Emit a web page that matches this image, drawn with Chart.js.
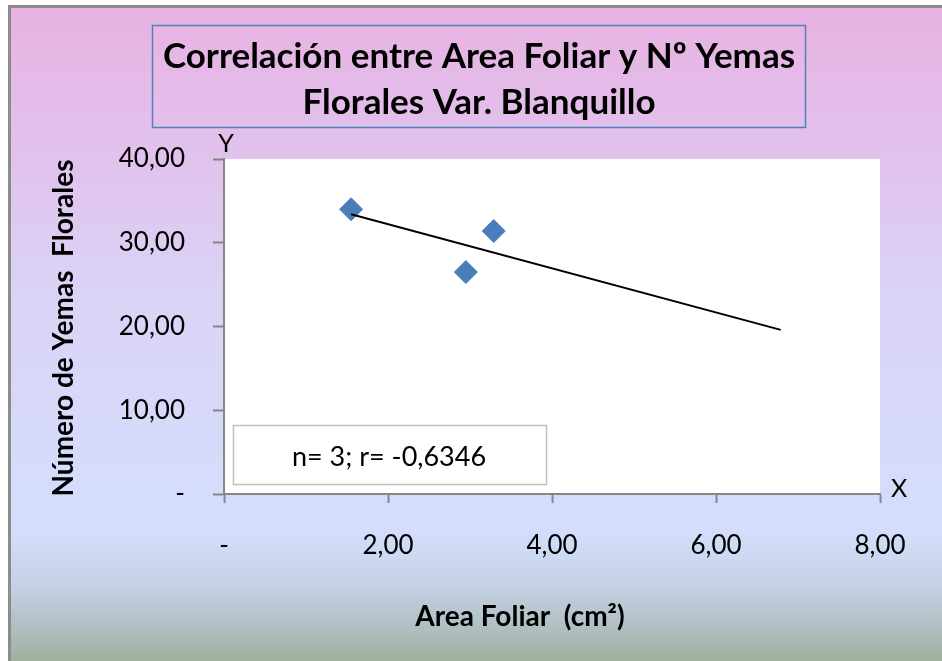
<!DOCTYPE html>
<html>
<head>
<meta charset="utf-8">
<script src="https://cdn.jsdelivr.net/npm/chart.js@4/dist/chart.umd.min.js"></script>
<style>
    body { margin: 0; background: #ffffff; }
    #corrChart { display: block; }
</style>
</head>
<body>
<canvas id="corrChart" width="942" height="661"></canvas>
<script>
// Data
const areaFoliar = [1.55, 2.95, 3.29];
const yemasFlorales = [34.0, 26.5, 31.4];
// Trend line ends
const trendX = [1.55, 6.79];
const trendY = [33.4, 19.6];
// Tick labels
const xTickLabels = ['-', '2,00', '4,00', '6,00', '8,00'];
const yTickLabels = ['-', '10,00', '20,00', '30,00', '40,00'];

const titleLines = ['Correlación entre Area Foliar y Nº Yemas', 'Florales Var. Blanquillo'];
const xTitle = 'Area Foliar  (cm²)';
const yTitle = 'Número de Yemas  Florales';
const statsText = 'n= 3; r= -0,6346';

const fontName = 'Lato, "Open Sans", sans-serif';
const axisGray = '#868686';

let points = [];
for (let i = 0; i < areaFoliar.length; i++) {
    points.push({ x: areaFoliar[i], y: yemasFlorales[i] });
}
let trend = [];
for (let i = 0; i < trendX.length; i++) {
    trend.push({ x: trendX[i], y: trendY[i] });
}

/******************* BACKGROUND + EXTRA TEXT *******************/
const decorPlugin = {
    id: 'decor',
    beforeDraw: (chart) => {
        const ctx = chart.ctx;
        const w = chart.width, h = chart.height;
        ctx.save();
        ctx.fillStyle = '#ffffff';
        ctx.fillRect(0, 0, w, h);
        let grad = ctx.createLinearGradient(0, 7, 0, h);
        grad.addColorStop(0, '#e8b2e2');
        grad.addColorStop(0.25, '#e0c4ee');
        grad.addColorStop(0.45, '#dad4f6');
        grad.addColorStop(0.8, '#d4defc');
        grad.addColorStop(0.88, '#c6d2e6');
        grad.addColorStop(0.94, '#b2c2c6');
        grad.addColorStop(1, '#9db19d');
        ctx.fillStyle = grad;
        ctx.fillRect(10, 7, w - 10, h - 7);
        // frame
        ctx.strokeStyle = '#8c8c8c';
        ctx.lineWidth = 3;
        ctx.beginPath();
        ctx.moveTo(9.5, h);
        ctx.lineTo(9.5, 6.5);
        ctx.lineTo(w, 6.5);
        ctx.stroke();
        // white plot area
        const a = chart.chartArea;
        ctx.fillStyle = '#ffffff';
        ctx.fillRect(a.left, a.top, a.right - a.left, a.bottom - a.top);
        ctx.restore();
    },
    afterDatasetsDraw: (chart) => {
        const ctx = chart.ctx;
        ctx.save();
        // title box
        ctx.strokeStyle = '#4f81bd';
        ctx.lineWidth = 1.5;
        ctx.strokeRect(152.5, 25.5, 653, 102);
        ctx.fillStyle = '#000000';
        ctx.textAlign = 'center';
        ctx.textBaseline = 'middle';
        ctx.font = 'bold 35px ' + fontName;
        ctx.fillText(titleLines[0], 479, 57);
        ctx.fillText(titleLines[1], 479, 103);
        // axis titles
        ctx.font = 'bold 28px ' + fontName;
        ctx.fillText(xTitle, 520, 617);
        ctx.save();
        ctx.translate(64, 328);
        ctx.rotate(-Math.PI / 2);
        ctx.fillText(yTitle, 0, 0);
        ctx.restore();
        // X and Y letters
        ctx.font = '25px ' + fontName;
        ctx.fillText('Y', 226, 144);
        ctx.fillText('X', 899, 489);
        // stats box
        ctx.fillStyle = '#ffffff';
        ctx.fillRect(233, 425, 313, 59);
        ctx.strokeStyle = '#bfbfbf';
        ctx.lineWidth = 1.5;
        ctx.strokeRect(233.5, 425.5, 313, 59);
        ctx.fillStyle = '#000000';
        ctx.font = '27px ' + fontName;
        ctx.fillText(statsText, 389, 457);
        ctx.restore();
    }
};

/******************* SCATTER CHART *******************/
let ctx = document.getElementById('corrChart');
let corrChart = new Chart(ctx, {
    type: 'scatter',
    data: {
        datasets: [{
            type: 'line',
            label: 'Tendencia',
            data: trend,
            borderColor: '#000000',
            borderWidth: 2,
            pointRadius: 0,
            fill: false,
            order: 0
        }, {
            label: 'Yemas',
            data: points,
            pointStyle: 'rectRot',
            pointRadius: 11.5,
            backgroundColor: '#4a7ebb',
            borderColor: '#4a7ebb',
            borderWidth: 1,
            order: 1
        }]
    },
    options: {
        responsive: false,
        animation: false,
        layout: {
            padding: { left: 0, top: 159, right: 62, bottom: 0 }
        },
        plugins: {
            legend: { display: false },
            tooltip: { enabled: false }
        },
        scales: {
            x: {
                type: 'linear',
                min: 0,
                max: 8,
                afterFit: (scale) => { scale.height = 167; },
                ticks: {
                    stepSize: 2,
                    padding: 27,
                    color: '#000000',
                    font: { family: fontName, size: 26 },
                    callback: (v, i) => xTickLabels[i]
                },
                grid: {
                    drawOnChartArea: false,
                    tickLength: 9,
                    tickWidth: 2,
                    color: axisGray
                },
                border: { color: axisGray, width: 2 }
            },
            y: {
                type: 'linear',
                min: 0,
                max: 40,
                afterFit: (scale) => { scale.width = 224; },
                ticks: {
                    stepSize: 10,
                    padding: 28,
                    color: '#000000',
                    font: { family: fontName, size: 26 },
                    callback: (v, i) => yTickLabels[i]
                },
                grid: {
                    drawOnChartArea: false,
                    tickLength: 11,
                    tickWidth: 2,
                    color: axisGray
                },
                border: { color: axisGray, width: 2 }
            }
        }
    },
    plugins: [decorPlugin]
});
</script>
</body>
</html>
